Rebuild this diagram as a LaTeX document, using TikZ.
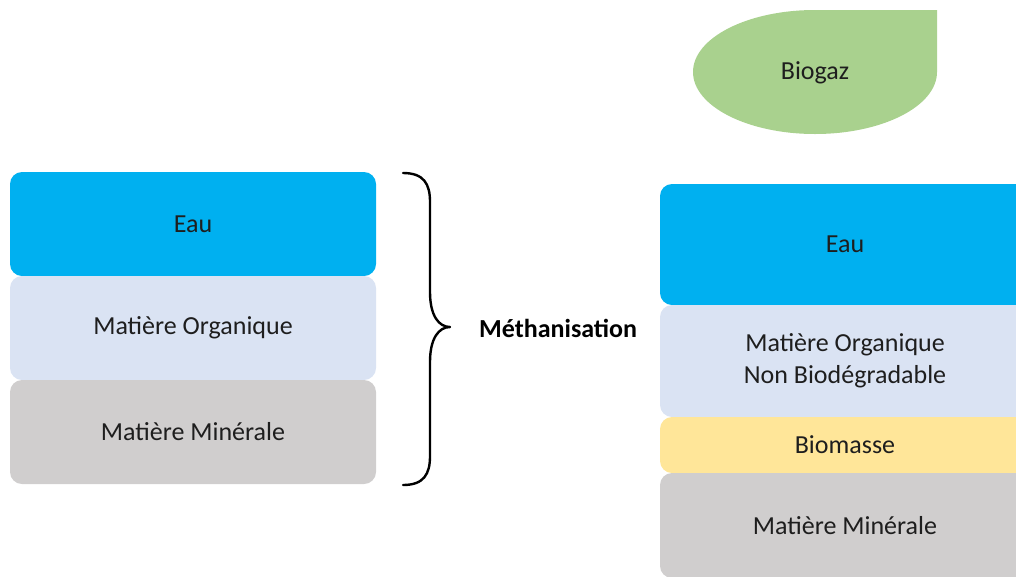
\documentclass[tikz,border=0pt]{standalone}
\usepackage{fontspec}
\setmainfont{Carlito}
\definecolor{eaucol}{HTML}{00B0F0}
\definecolor{orgcol}{HTML}{DAE3F3}
\definecolor{mincol}{HTML}{D0CECE}
\definecolor{biomcol}{HTML}{FFE699}
\definecolor{gazcol}{HTML}{A9D18E}
\definecolor{txtcol}{HTML}{1E1E1E}
\tikzset{
  layer/.style={rounded corners=12pt, inner sep=0pt, align=center, text=txtcol,
    font=\fontsize{26}{32}\selectfont},
  leftlayer/.style={layer, minimum width=366pt},
  rightlayer/.style={layer, minimum width=370pt},
  bracestyle/.style={line width=2.4pt, line cap=round, line join=round, draw=black}
}
\begin{document}
\begin{tikzpicture}[x=1pt,y=-1pt]
\useasboundingbox (0,0) rectangle (1016,576);
\clip (0,0) rectangle (1016,576);
% left stack
\node[leftlayer, fill=eaucol, minimum height=104pt] (leau) at (193,224) {Eau};
\node[leftlayer, fill=orgcol, minimum height=104pt] (lorg) at (193,328) {Matière Organique};
\node[leftlayer, fill=mincol, minimum height=104pt] (lmin) at (193,432) {Matière Minérale};
% brace
\draw[bracestyle] (403,173) .. controls (424,173) and (430,184) .. (430,202)
  -- (430,292) .. controls (430,316) and (439,327) .. (450,327)
  .. controls (439,327) and (430,338) .. (430,362)
  -- (430,456) .. controls (430,474) and (424,485) .. (403,485);
\node[anchor=west, inner sep=0pt, font=\fontsize{26}{32}\selectfont\bfseries] (meth) at (479,328) {Méthanisation};
% biogaz teardrop
\path[fill=gazcol] (693,72) arc[start angle=180, end angle=270, x radius=122, y radius=62]
  -- (937,10) -- (937,72) arc[start angle=0, end angle=180, x radius=122, y radius=62] -- cycle;
\node[inner sep=0pt, text=txtcol, font=\fontsize{26}{32}\selectfont] (gaz) at (815,73) {Biogaz};
% right stack
\node[rightlayer, fill=eaucol, minimum height=121pt] (reau) at (845,244.5) {Eau};
\node[rightlayer, fill=orgcol, minimum height=112pt] (rorg) at (845,361) {Matière Organique\\Non Biodégradable};
\node[rightlayer, fill=biomcol, minimum height=56pt] (rbio) at (845,445) {Biomasse};
\node[rightlayer, fill=mincol, minimum height=105pt] (rmin) at (845,525.5) {Matière Minérale};
\end{tikzpicture}
\end{document}
